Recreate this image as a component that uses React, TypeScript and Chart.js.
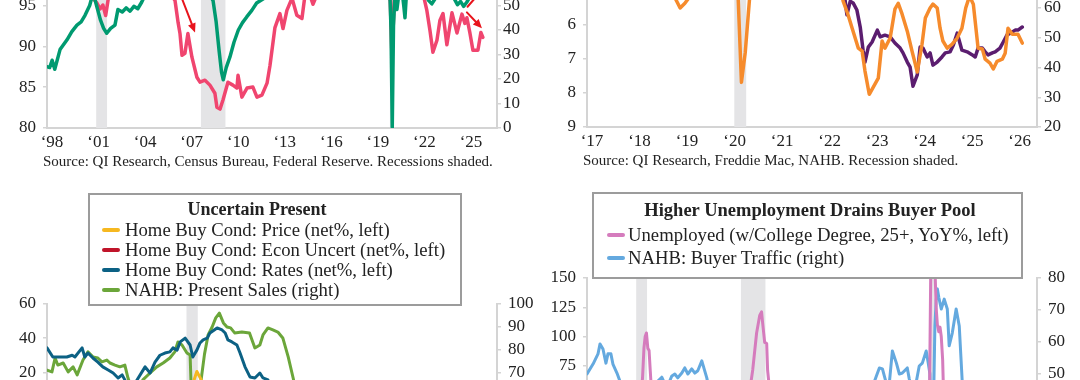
import React, { useEffect, useRef } from "react";
import { Chart, registerables } from "chart.js";

Chart.register(...registerables);

const SERIF = "'Liberation Serif', 'Times New Roman', serif";
const TEXT = "#222222";
const AXIS = "#d4d4d4";
const BAND = "#e4e4e6";

// ---------------- recessions ----------------
const recessionStarts = [2001.17, 2007.92, 2020.1];
const recessionEnds = [2001.87, 2009.5, 2020.35];

// ---------------- top-left chart ----------------
const tlXTicks = [1998, 2001, 2004, 2007, 2010, 2013, 2016, 2019, 2022, 2025];
const tlLeftTicks = [80, 85, 90, 95, 100, 105, 110];
const tlRightTicks = [0, 10, 20, 30, 40, 50, 60, 70, 80, 90, 100];
const tlGreenDates = [1998.0, 1998.17, 1998.33, 1998.5, 1998.84, 1999.29, 1999.6, 1999.93, 2000.2, 2000.45, 2000.75, 2000.92, 2001.08, 2001.25, 2001.45, 2001.65, 2001.85, 2002.1, 2002.38, 2002.57, 2002.85, 2003.1, 2003.35, 2003.6, 2003.85, 2004.1, 2004.4, 2005.0, 2005.6, 2006.2, 2006.8, 2007.4, 2007.9, 2008.4, 2008.7, 2008.9, 2009.1, 2009.25, 2009.36, 2009.55, 2009.79, 2010.05, 2010.33, 2010.6, 2010.87, 2011.2, 2011.51, 2011.92, 2012.4, 2013, 2014, 2015, 2016, 2017, 2018, 2019, 2019.9, 2020.08, 2020.17, 2020.25, 2020.33, 2020.42, 2020.55, 2020.7, 2020.9, 2021.0, 2021.07, 2021.15, 2021.4, 2021.8, 2022.3, 2022.6, 2022.8, 2023.0, 2023.3, 2023.8, 2024.2, 2024.45, 2024.65, 2024.85, 2025.05, 2025.3, 2025.6, 2025.9, 2026.1];
const tlGreenValues = [87.5, 87.4, 88.3, 87.2, 89.6, 90.8, 91.8, 92.6, 93.0, 93.8, 95.0, 96.2, 95.8, 94.6, 93.2, 92.2, 91.6, 92.2, 92.6, 94.5, 94.2, 94.7, 94.3, 94.9, 94.6, 95.4, 96.6, 97.8, 98.4, 98.6, 98.3, 97.9, 97.4, 96.6, 95.6, 93.0, 89.3, 86.8, 85.9, 87.4, 88.7, 90.5, 92.0, 92.9, 93.6, 94.4, 95.3, 95.8, 96.8, 97.6, 98.2, 98.4, 98.6, 98.8, 98.7, 98.6, 98.4, 97.5, 92, 80, 92.5, 96.2, 94.5, 96.8, 96.5, 94.8, 93.5, 96.0, 97.2, 97.6, 96.6, 95.6, 95.2, 95.8, 96.6, 96.6, 96.0, 95.1, 95.5, 94.9, 95.4, 96.2, 96.6, 96.3, 96.5];
const tlPinkDates = [1998.0, 1999.0, 2000.0, 2000.8, 2001.0, 2001.2, 2001.42, 2001.6, 2001.78, 2001.95, 2002.3, 2003, 2004, 2005, 2005.8, 2006.25, 2006.45, 2006.57, 2006.7, 2006.89, 2007.08, 2007.34, 2007.66, 2007.86, 2008.18, 2008.5, 2008.82, 2008.95, 2009.15, 2009.34, 2009.66, 2009.98, 2010.24, 2010.31, 2010.56, 2010.89, 2011.27, 2011.53, 2011.85, 2012.18, 2012.37, 2012.69, 2013.01, 2013.21, 2013.46, 2013.79, 2014.1, 2014.43, 2014.6, 2014.9, 2015.14, 2015.4, 2016, 2017, 2018, 2019, 2019.95, 2020.12, 2020.23, 2020.38, 2020.6, 2021, 2021.5, 2022, 2022.3, 2022.48, 2022.68, 2022.87, 2023.13, 2023.32, 2023.52, 2023.77, 2024.1, 2024.42, 2024.74, 2024.93, 2025.06, 2025.26, 2025.45, 2025.77, 2025.96, 2026.09];
const tlPinkValues = [58, 57, 55.5, 53.5, 52.6, 51.2, 48.6, 50.2, 45.9, 52.8, 56, 58, 59, 58, 56, 52, 43, 38.6, 29.7, 30.5, 38.6, 28.9, 20.7, 18.7, 19.5, 17.5, 14.2, 8.5, 7.7, 11.4, 18.7, 17.5, 16.3, 21.5, 12.6, 16.3, 16.7, 12.6, 13.4, 18.3, 25.5, 41, 46.7, 40.6, 48, 53, 46, 44.7, 53, 55, 50.5, 54.5, 56, 57, 56, 57, 55, 52, 29, 52, 58, 60, 62, 57, 53, 48, 39.8, 30.9, 35.8, 43.9, 46.7, 34, 47, 38.8, 46.5, 42.7, 45, 38.6, 31.7, 31.7, 39, 37];
// annotation arrows (right-axis units)
const tlArrowFromX = [2006.38, 2025.06, 2026.27];
const tlArrowFromY = [58, 47.2, 58];
const tlArrowToX = [2007.54, 2026.03, 2025.1];
const tlArrowToY = [39, 40.7, 49.5];
const tlArrowHead = [true, true, false];

// ---------------- top-right chart ----------------
const trXTicks = [2017, 2018, 2019, 2020, 2021, 2022, 2023, 2024, 2025, 2026];
const trLeftTicks = [2, 3, 4, 5, 6, 7, 8, 9];
const trRightTicks = [20, 30, 40, 50, 60, 70, 80, 90, 100];
const trRateDates = [2017.0, 2017.25, 2017.5, 2017.75, 2018.0, 2018.25, 2018.5, 2018.75, 2019.0, 2019.25, 2019.5, 2019.75, 2020.0, 2020.25, 2020.5, 2020.75, 2021.0, 2021.25, 2021.5, 2021.75, 2022.0, 2022.17, 2022.3, 2022.43, 2022.47, 2022.54, 2022.6, 2022.68, 2022.75, 2022.81, 2022.85, 2022.92, 2023.0, 2023.11, 2023.17, 2023.27, 2023.38, 2023.48, 2023.59, 2023.65, 2023.74, 2023.8, 2023.86, 2023.95, 2024.01, 2024.07, 2024.16, 2024.22, 2024.28, 2024.37, 2024.47, 2024.54, 2024.64, 2024.71, 2024.79, 2024.89, 2025.0, 2025.11, 2025.17, 2025.23, 2025.32, 2025.38, 2025.44, 2025.53, 2025.59, 2025.69, 2025.76, 2025.84, 2025.91, 2026.01, 2026.07, 2026.16];
const trRateValues = [4.15, 4.2, 3.95, 3.9, 4.0, 4.45, 4.55, 4.8, 4.5, 4.2, 3.8, 3.7, 3.6, 3.3, 3.0, 2.85, 2.75, 3.05, 2.95, 3.05, 3.45, 4.2, 5.0, 5.26, 5.7, 5.3, 5.35, 5.56, 6.06, 6.74, 7.09, 6.65, 6.5, 6.15, 6.35, 6.3, 6.35, 6.53, 6.68, 6.82, 7.09, 7.24, 7.8, 7.47, 6.65, 6.68, 6.94, 6.82, 7.18, 7.09, 6.94, 6.82, 6.79, 6.59, 6.24, 6.74, 6.79, 6.88, 6.94, 6.68, 6.68, 6.79, 6.88, 6.82, 6.79, 6.68, 6.5, 6.29, 6.24, 6.15, 6.15, 6.06];
const trHmiDates = [2017.0, 2017.25, 2017.5, 2017.75, 2018.0, 2018.25, 2018.5, 2018.75, 2018.88, 2018.96, 2019.06, 2019.17, 2019.4, 2019.6, 2019.8, 2020.0, 2020.08, 2020.17, 2020.25, 2020.33, 2020.42, 2020.5, 2020.75, 2021.0, 2021.5, 2021.9, 2022.1, 2022.25, 2022.32, 2022.39, 2022.49, 2022.58, 2022.71, 2022.79, 2022.85, 2022.94, 2023.06, 2023.13, 2023.21, 2023.27, 2023.38, 2023.48, 2023.55, 2023.63, 2023.74, 2023.84, 2023.91, 2023.95, 2024.05, 2024.12, 2024.22, 2024.28, 2024.37, 2024.43, 2024.49, 2024.58, 2024.68, 2024.79, 2024.89, 2024.97, 2025.05, 2025.13, 2025.23, 2025.32, 2025.38, 2025.48, 2025.55, 2025.63, 2025.74, 2025.8, 2025.86, 2025.95, 2026.01, 2026.07, 2026.16];
const trHmiValues = [67, 69, 66, 69, 72, 70, 68, 67, 62.5, 60, 61.6, 64, 66, 67, 71, 75, 74, 68, 35, 45, 63, 72, 85, 84, 81, 84, 81, 77, 68, 62.3, 57.9, 53.2, 46.5, 45.5, 38.8, 31, 34.4, 36.4, 48.9, 46.5, 49.9, 59.6, 61.6, 58, 52.2, 45.5, 41.1, 38.5, 47.8, 56.6, 60, 61.3, 60, 53.2, 48.9, 46.5, 47.8, 49.9, 53.2, 60, 64, 61.3, 46.5, 46.2, 42.8, 41.5, 39.5, 42.1, 42.8, 44.8, 53.2, 51.2, 51.2, 51.2, 48.2];

// ---------------- bottom-left chart ----------------
const blXTicks = [2017, 2019, 2021, 2023, 2025];
const blLeftTicks = [-60, -40, -20, 0, 20, 40, 60];
const blRightTicks = [10, 20, 30, 40, 50, 60, 70, 80, 90, 100];
const blPriceDates = [2017.0, 2017.5, 2018.0, 2018.5, 2019.0, 2019.5, 2019.9, 2020.08, 2020.17, 2020.25, 2020.33, 2020.42, 2020.5, 2020.75, 2021.0, 2021.5, 2022.0, 2022.5, 2023.0, 2023.5, 2024.0, 2024.5, 2025.0, 2025.5, 2026.0];
const blPriceValues = [4, 2, -1, -3, 1, 4, 6, 9, 11, 14, 20.5, 16, 11, 3, -6, -20, -32, -42, -36, -31, -35, -29, -33, -36, -31];
const blUncertDates = [2017.0, 2017.5, 2018.0, 2018.5, 2019.0, 2019.5, 2020.0, 2020.25, 2020.5, 2021.0, 2021.5, 2022.0, 2022.5, 2023.0, 2023.5, 2024.0, 2024.5, 2025.0, 2025.33, 2025.6, 2026.0];
const blUncertValues = [-4, -5, -6, -5, -9, -7, -6, -26, -18, -12, -10, -13, -18, -16, -14, -13, -15, -14, -27, -22, -19];
const blRatesDates = [2017.0, 2017.13, 2017.24, 2017.44, 2017.56, 2017.62, 2017.78, 2017.84, 2017.91, 2018.02, 2018.13, 2018.24, 2018.36, 2018.47, 2018.58, 2018.67, 2018.73, 2018.82, 2018.92, 2019.0, 2019.18, 2019.29, 2019.4, 2019.51, 2019.62, 2019.73, 2019.8, 2019.89, 2019.96, 2020.07, 2020.18, 2020.24, 2020.33, 2020.4, 2020.47, 2020.56, 2020.62, 2020.78, 2020.89, 2020.96, 2021.02, 2021.11, 2021.22, 2021.29, 2021.4, 2021.51, 2021.62, 2021.73, 2021.8, 2021.91, 2022.0, 2022.25, 2022.5, 2022.75, 2023.0, 2023.5, 2024.0, 2024.5, 2025.0, 2025.5, 2026.0];
const blRatesValues = [34.3, 29, 29, 29, 30, 29, 34.3, 29, 31.3, 28.4, 26, 23.2, 21.4, 19.6, 16.7, 18.5, 15.6, 11, 12, 15.5, 23.2, 19.6, 26, 30, 31.3, 32, 34.3, 33, 37.8, 40, 36, 29, 33, 37.2, 39, 40, 43, 46, 44.8, 43, 39, 37.8, 36, 31.3, 23.2, 17.3, 16.7, 19.6, 16.7, 15.6, 8, -12, -32, -44, -40, -42, -37, -34, -30, -33, -28];
const blSalesDates = [2017.0, 2017.11, 2017.18, 2017.24, 2017.36, 2017.47, 2017.58, 2017.67, 2017.8, 2017.91, 2018.02, 2018.13, 2018.22, 2018.33, 2018.4, 2018.51, 2018.62, 2018.73, 2018.8, 2018.9, 2019.0, 2019.13, 2019.29, 2019.44, 2019.58, 2019.73, 2019.84, 2019.91, 2020.0, 2020.11, 2020.18, 2020.25, 2020.33, 2020.42, 2020.5, 2020.58, 2020.67, 2020.75, 2020.83, 2020.92, 2021.0, 2021.08, 2021.17, 2021.33, 2021.5, 2021.62, 2021.73, 2021.8, 2021.91, 2022.02, 2022.13, 2022.24, 2022.36, 2022.47, 2022.55, 2022.7, 2022.9, 2023.1, 2023.4, 2023.7, 2024.0, 2024.3, 2024.6, 2024.9, 2025.2, 2025.5, 2025.8, 2026.0];
const blSalesValues = [71, 70.2, 76.3, 73.2, 74.1, 70.2, 72.4, 68.9, 75.4, 79, 76.8, 76.3, 74.6, 75.4, 74.1, 73.2, 72.4, 73.2, 67.5, 62, 62, 66.7, 69.7, 72.4, 74.1, 76.3, 79, 83.3, 82, 78.5, 77.6, 36, 43, 66, 78, 86.4, 89.9, 93.9, 96, 91.7, 89.9, 89.5, 87.3, 87.7, 87.3, 80.7, 82, 86.4, 89.5, 88.6, 87.7, 85.1, 76.8, 67.5, 60, 48, 38, 45, 61, 52, 48, 58, 44, 52, 45, 36, 42, 42];

// ---------------- bottom-right chart ----------------
const brXTicks = [1998, 2003, 2008, 2013, 2018, 2023];
const brLeftTicks = [-50, -25, 0, 25, 50, 75, 100, 125, 150];
const brRightTicks = [10, 20, 30, 40, 50, 60, 70, 80];
const brUnempDates = [1998.0, 1998.5, 1999.0, 1999.5, 2000.0, 2000.5, 2001.0, 2001.25, 2001.5, 2001.58, 2001.67, 2001.75, 2001.83, 2001.92, 2002.0, 2002.08, 2002.17, 2002.5, 2003.0, 2003.5, 2004.0, 2004.5, 2005.0, 2005.5, 2006.0, 2006.5, 2007.0, 2007.5, 2008.0, 2008.3, 2008.5, 2008.68, 2008.93, 2009.13, 2009.25, 2009.32, 2009.45, 2009.58, 2009.64, 2009.8, 2010.0, 2010.5, 2011.0, 2011.5, 2012.0, 2012.5, 2013.0, 2013.5, 2014.0, 2014.5, 2015.0, 2015.5, 2016.0, 2016.5, 2017.0, 2017.5, 2018.0, 2018.5, 2019.0, 2019.5, 2019.92, 2020.0, 2020.08, 2020.17, 2020.25, 2020.33, 2020.42, 2020.5, 2020.58, 2020.67, 2020.75, 2020.83, 2020.92, 2021.0, 2021.25, 2021.5, 2022.0, 2022.5, 2023.0, 2023.5, 2024.0, 2024.5, 2025.0, 2025.5, 2026.0];
const brUnempValues = [5, -5, -10, 0, -15, 5, 20, 35, 50, 65, 90, 100, 103, 90, 88, 70, 50, 30, 20, 10, -10, -15, -20, -10, -15, 0, -5, 10, 30, 45, 55, 71.4, 103, 118, 121, 111.5, 95, 94, 71, 50, 35, 10, 0, -10, -15, -20, -5, -15, -20, -10, -15, 0, -5, 5, -10, -5, -15, 0, -5, 5, 5, 20, 60, 180, 300, 280, 160, 125, 110, 104, 108, 100, 80, 40, -20, -40, -35, -20, 5, 15, 20, 25, 15, 30, 20];
const brTrafficDates = [1998.0, 1998.39, 1998.71, 1998.84, 1999.03, 1999.22, 1999.35, 1999.54, 1999.67, 1999.93, 2000.12, 2000.5, 2001.0, 2001.5, 2002.0, 2002.3, 2002.57, 2002.82, 2003.1, 2003.3, 2003.47, 2003.66, 2003.85, 2004.11, 2004.3, 2004.5, 2004.75, 2004.95, 2005.14, 2005.4, 2005.46, 2005.72, 2006.0, 2006.5, 2007.0, 2008.0, 2009.0, 2010.0, 2011.0, 2012.0, 2013.0, 2014.0, 2015.0, 2016.0, 2016.4, 2016.65, 2016.84, 2017.04, 2017.16, 2017.35, 2017.5, 2017.68, 2017.94, 2018.13, 2018.32, 2018.64, 2018.77, 2019.0, 2019.2, 2019.41, 2019.61, 2019.86, 2019.99, 2020.1, 2020.25, 2020.33, 2020.42, 2020.5, 2020.58, 2020.67, 2020.83, 2021.02, 2021.22, 2021.34, 2021.54, 2021.79, 2021.99, 2022.18, 2022.4, 2022.7, 2023.0, 2023.5, 2024.0, 2024.5, 2025.0, 2025.5, 2026.0];
const brTrafficValues = [50, 53.1, 56.3, 59.4, 57.8, 53.4, 56.3, 56.3, 53.1, 50.3, 47.8, 43, 38, 40, 42, 45, 47.8, 49, 46, 47.5, 49.4, 50, 48.8, 50.3, 51.9, 50, 51.6, 50.3, 51, 54.1, 53.1, 48.8, 42, 33, 28, 18, 15, 17, 16, 24, 33, 36, 41, 45, 46, 49.4, 51.9, 51.6, 49.4, 46, 48, 57.2, 53.4, 50, 50.3, 51.9, 48.4, 45, 47, 52.5, 53.4, 57.2, 53.4, 50, 15, 40, 65, 73, 76.6, 74, 70.3, 73.4, 70.3, 58.8, 62.8, 70.3, 65, 47.8, 40, 28, 25, 35, 30, 28, 25, 22, 26];

// ---------------- helpers ----------------
const pts = (xs: number[], ys: number[]) => xs.map((x, i) => ({ x, y: ys[i] }));
const FONT = { family: SERIF, size: 17 };

const recessionPlugin = {
  id: "recessions",
  beforeDatasetsDraw(chart: any, _args: any, opts: any) {
    if (!opts || !opts.starts) return;
    const { ctx, chartArea, scales } = chart;
    const xs = scales.x;
    ctx.save();
    ctx.fillStyle = BAND;
    opts.starts.forEach((s: number, i: number) => {
      const a = xs.getPixelForValue(s);
      const b = xs.getPixelForValue(opts.ends[i]);
      ctx.fillRect(a, chartArea.top, b - a, chartArea.bottom - chartArea.top);
    });
    ctx.restore();
  },
};

const arrowPlugin = {
  id: "arrows",
  afterDatasetsDraw(chart: any, _args: any, opts: any) {
    if (!opts || !opts.fromX) return;
    const { ctx, scales } = chart;
    const xs = scales.x;
    const ys = scales[opts.axis];
    ctx.save();
    ctx.strokeStyle = opts.color;
    ctx.fillStyle = opts.color;
    ctx.lineWidth = 2;
    ctx.lineCap = "round";
    opts.fromX.forEach((fx: number, i: number) => {
      const x1 = xs.getPixelForValue(fx);
      const y1 = ys.getPixelForValue(opts.fromY[i]);
      const x2 = xs.getPixelForValue(opts.toX[i]);
      const y2 = ys.getPixelForValue(opts.toY[i]);
      const ang = Math.atan2(y2 - y1, x2 - x1);
      const hl = 9;
      const hw = 4;
      const ex = opts.head[i] ? x2 - Math.cos(ang) * hl * 0.8 : x2;
      const ey = opts.head[i] ? y2 - Math.sin(ang) * hl * 0.8 : y2;
      ctx.beginPath();
      ctx.moveTo(x1, y1);
      ctx.lineTo(ex, ey);
      ctx.stroke();
      if (opts.head[i]) {
        const bx = x2 - Math.cos(ang) * hl;
        const by = y2 - Math.sin(ang) * hl;
        ctx.beginPath();
        ctx.moveTo(x2, y2);
        ctx.lineTo(bx + Math.sin(ang) * hw, by - Math.cos(ang) * hw);
        ctx.lineTo(bx - Math.sin(ang) * hw, by + Math.cos(ang) * hw);
        ctx.closePath();
        ctx.fill();
      }
    });
    ctx.restore();
  },
};

function yAxis(position: string, min: number, max: number, ticks: number[], width: number, padding: number, reverse = false) {
  return {
    type: "linear",
    position,
    min,
    max,
    reverse,
    afterBuildTicks: (s: any) => {
      s.ticks = ticks.map((v) => ({ value: v }));
    },
    afterFit: (s: any) => {
      s.width = width;
    },
    ticks: { font: FONT, color: TEXT, padding, autoSkip: false },
    grid: { display: true, drawOnChartArea: false, drawTicks: true, tickLength: 4, color: AXIS, lineWidth: 1.5 },
    border: { display: true, color: AXIS, width: 2 },
  };
}

function xAxis(min: number, max: number, ticks: number[], height: number, labelOffset: number) {
  return {
    type: "linear",
    position: "bottom",
    min,
    max,
    afterBuildTicks: (s: any) => {
      s.ticks = ticks.map((v) => ({ value: v }));
    },
    afterFit: (s: any) => {
      s.height = height;
    },
    ticks: {
      font: FONT,
      color: TEXT,
      padding: 4,
      labelOffset,
      maxRotation: 0,
      autoSkip: false,
      callback: (v: any) => "\u2018" + String(v).slice(2),
    },
    grid: { display: false, drawTicks: false },
    border: { display: true, color: AXIS, width: 2 },
  };
}

function line(label: string, xs: number[], ys: number[], color: string, axis: string, width: number) {
  return {
    label,
    data: pts(xs, ys),
    borderColor: color,
    backgroundColor: color,
    borderWidth: width,
    yAxisID: axis,
    pointRadius: 0,
    fill: false,
    tension: 0,
    borderJoinStyle: "round",
    borderCapStyle: "round",
  };
}

function options(scales: any, extra: any) {
  return {
    responsive: false,
    maintainAspectRatio: false,
    animation: false,
    events: [],
    layout: { padding: { top: 20, left: 0, right: 0, bottom: 0 } },
    scales,
    plugins: {
      legend: { display: false },
      tooltip: { enabled: false },
      ...extra,
    },
  };
}

const makeTopLeft = () => ({
  type: "line",
  data: {
    datasets: [
      line("Green", tlGreenDates, tlGreenValues, "#009a70", "y", 3.5),
      line("Pink", tlPinkDates, tlPinkValues, "#f0456f", "y1", 3.5),
    ],
  },
  options: options(
    {
      x: xAxis(1998, 2027, tlXTicks, 30, 5),
      y: yAxis("left", 80, 110, tlLeftTicks, 47, 7),
      y1: yAxis("right", 0, 100, tlRightTicks, 43, 2),
    },
    {
      recessions: { starts: recessionStarts, ends: recessionEnds },
      arrows: { axis: "y1", color: "#e8141c", fromX: tlArrowFromX, fromY: tlArrowFromY, toX: tlArrowToX, toY: tlArrowToY, head: tlArrowHead },
    }
  ),
  plugins: [recessionPlugin, arrowPlugin],
});

const makeTopRight = () => ({
  type: "line",
  data: {
    datasets: [
      line("NAHB", trHmiDates, trHmiValues, "#f68b2c", "y1", 3.5),
      line("Rate", trRateDates, trRateValues, "#5b1d6f", "y", 3.5),
    ],
  },
  options: options(
    {
      x: xAxis(2017, 2026.47, trXTicks, 30, 5),
      y: yAxis("left", 2, 9, trLeftTicks, 47, 7, true),
      y1: yAxis("right", 20, 100, trRightTicks, 43, 3),
    },
    { recessions: { starts: recessionStarts, ends: recessionEnds } }
  ),
  plugins: [recessionPlugin],
});

const makeBottomLeft = () => ({
  type: "line",
  data: {
    datasets: [
      line("Home Buy Cond: Price (net%, left)", blPriceDates, blPriceValues, "#f6b820", "y", 3),
      line("Home Buy Cond: Econ Uncert (net%, left)", blUncertDates, blUncertValues, "#c0142a", "y", 3),
      line("Home Buy Cond: Rates (net%, left)", blRatesDates, blRatesValues, "#0c6184", "y", 3),
      line("NAHB: Present Sales (right)", blSalesDates, blSalesValues, "#6ba63a", "y1", 3),
    ],
  },
  options: options(
    {
      x: xAxis(2017, 2027, blXTicks, 30, 0),
      y: yAxis("left", -60, 60, blLeftTicks, 47, 7),
      y1: yAxis("right", 10, 100, blRightTicks, 43, 7),
    },
    { recessions: { starts: recessionStarts, ends: recessionEnds } }
  ),
  plugins: [recessionPlugin],
});

const makeBottomRight = () => ({
  type: "line",
  data: {
    datasets: [
      line("Unemployed (w/College Degree, 25+, YoY%, left)", brUnempDates, brUnempValues, "#d57cbd", "y", 3),
      line("NAHB: Buyer Traffic (right)", brTrafficDates, brTrafficValues, "#64a9df", "y1", 3),
    ],
  },
  options: options(
    {
      x: xAxis(1998, 2027, brXTicks, 30, 0),
      y: yAxis("left", -50, 150, brLeftTicks, 47, 7),
      y1: yAxis("right", 6.875, 80, brRightTicks, 43, 7),
    },
    { recessions: { starts: recessionStarts, ends: recessionEnds } }
  ),
  plugins: [recessionPlugin],
});

function ChartBox(props: { left: number; top: number; width: number; height: number; make: () => any }) {
  const ref = useRef<HTMLCanvasElement>(null);
  useEffect(() => {
    const chart = new Chart(ref.current as HTMLCanvasElement, props.make());
    return () => chart.destroy();
  }, []);
  return (
    <canvas
      ref={ref}
      width={props.width}
      height={props.height}
      style={{ position: "absolute", left: props.left, top: props.top, width: props.width, height: props.height }}
    />
  );
}

function Text(props: { x: number; cy: number; size: number; bold?: boolean; children: any; center?: boolean; w?: number }) {
  const h = 26;
  const style: any = {
    position: "absolute",
    top: props.cy - h / 2,
    height: h,
    lineHeight: h + "px",
    fontFamily: SERIF,
    fontSize: props.size,
    fontWeight: props.bold ? "bold" : "normal",
    color: TEXT,
    whiteSpace: "nowrap",
  };
  if (props.center) {
    const w = props.w || 500;
    style.left = props.x - w / 2;
    style.width = w;
    style.textAlign = "center";
  } else {
    style.left = props.x;
  }
  return <div style={style}>{props.children}</div>;
}

function Marker(props: { x1: number; x2: number; cy: number; color: string }) {
  return (
    <div
      style={{
        position: "absolute",
        left: props.x1,
        top: props.cy - 2,
        width: props.x2 - props.x1,
        height: 4,
        borderRadius: 2,
        background: props.color,
      }}
    />
  );
}

export default function App() {
  return (
    <div style={{ position: "fixed", left: 0, top: 0, width: 1080, height: 380, overflow: "hidden", background: "#ffffff" }}>
      <ChartBox left={0} top={-137} width={540} height={295} make={makeTopLeft} />
      <ChartBox left={540} top={-131} width={540} height={288} make={makeTopRight} />
      <ChartBox left={0} top={284} width={540} height={255} make={makeBottomLeft} />
      <ChartBox left={540} top={258} width={540} height={284} make={makeBottomRight} />

      <Text x={43} cy={161} size={15}>Source: QI Research, Census Bureau, Federal Reserve. Recessions shaded.</Text>
      <Text x={583} cy={160} size={15}>Source: QI Research, Freddie Mac, NAHB. Recession shaded.</Text>

      <div style={{ position: "absolute", left: 88, top: 193, width: 374, height: 113, boxSizing: "border-box", border: "2px solid #9c9c9c", background: "#ffffff" }} />
      <Text x={257} cy={209} size={18} bold center>Uncertain Present</Text>
      <Marker x1={102} x2={120} cy={230} color="#f6b820" />
      <Text x={125} cy={230} size={18.7}>Home Buy Cond: Price (net%, left)</Text>
      <Marker x1={102} x2={120} cy={250} color="#c0142a" />
      <Text x={125} cy={250} size={18.7}>Home Buy Cond: Econ Uncert (net%, left)</Text>
      <Marker x1={102} x2={120} cy={270} color="#0c6184" />
      <Text x={125} cy={270} size={18.7}>Home Buy Cond: Rates (net%, left)</Text>
      <Marker x1={102} x2={120} cy={290} color="#6ba63a" />
      <Text x={125} cy={290} size={18.7}>NAHB: Present Sales (right)</Text>

      <div style={{ position: "absolute", left: 592, top: 192, width: 431, height: 87, boxSizing: "border-box", border: "2px solid #9c9c9c", background: "#ffffff" }} />
      <Text x={810} cy={210} size={18.5} bold center>Higher Unemployment Drains Buyer Pool</Text>
      <Marker x1={607} x2={625} cy={235} color="#d57cbd" />
      <Text x={628} cy={235} size={18.7}>Unemployed (w/College Degree, 25+, YoY%, left)</Text>
      <Marker x1={607} x2={625} cy={258} color="#64a9df" />
      <Text x={628} cy={258} size={18.7}>NAHB: Buyer Traffic (right)</Text>
    </div>
  );
}
